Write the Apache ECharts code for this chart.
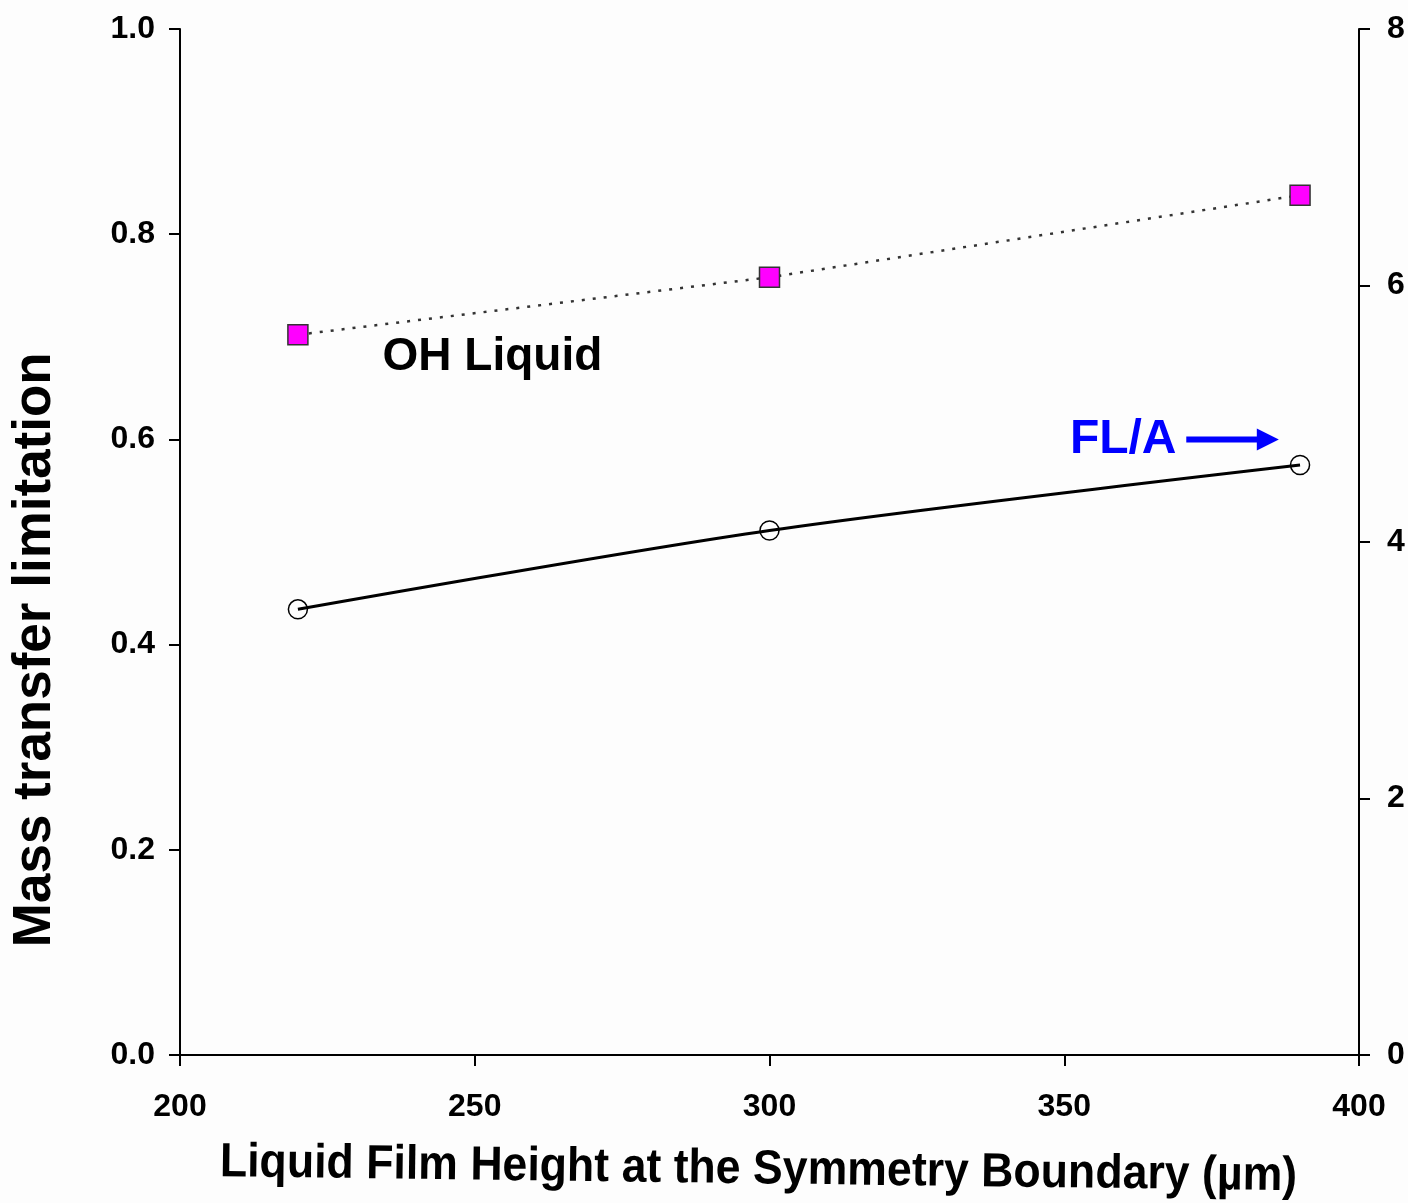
<!DOCTYPE html>
<html>
<head>
<meta charset="utf-8">
<script src="https://cdn.jsdelivr.net/npm/echarts@6/dist/echarts.min.js"></script>
<style>
  html, body { margin: 0; padding: 0; background: #fdfdfd; }
  #chart { width: 1408px; height: 1203px; }
</style>
</head>
<body>
<div id="chart"></div>
<script>
// Liquid film heights (µm)
const filmHeights = [220, 300, 390];
// Mass transfer limitation, OH in the liquid (left axis)
const ohLiquid = [0.702, 0.758, 0.838];
// FL/A (right axis)
const flA = [3.475, 4.09, 4.60];

const leftTicks = { min: 0, max: 1, interval: 0.2 };
const rightTicks = { min: 0, max: 8, interval: 2 };
const xTicks = { min: 200, max: 400, interval: 50 };

const FONT = '"Liberation Sans", Arial, sans-serif';
const axisLine = { show: true, lineStyle: { color: '#000', width: 2 } };
const axisTick = { show: true, inside: false, length: 11, lineStyle: { color: '#000', width: 2 } };
const tickLabel = { color: '#000', fontFamily: FONT, fontWeight: 'bold', fontSize: 32 };

const chart = echarts.init(document.getElementById('chart'), null, { renderer: 'canvas' });

const option = {
  backgroundColor: '#fdfdfd',
  animation: false,
  grid: { left: 180, right: 49, top: 29, bottom: 148, containLabel: false },
  xAxis: [
    {
      type: 'value', min: xTicks.min, max: xTicks.max, interval: xTicks.interval,
      axisLine, axisTick, splitLine: { show: false },
      axisLabel: Object.assign({ margin: 36 }, tickLabel)
    },
    {
      type: 'value', position: 'top', min: xTicks.min, max: xTicks.max,
      axisLine, axisTick: { show: false }, axisLabel: { show: false }, splitLine: { show: false }
    }
  ],
  yAxis: [
    {
      type: 'value', position: 'left', min: leftTicks.min, max: leftTicks.max, interval: leftTicks.interval,
      axisLine, axisTick, splitLine: { show: false },
      axisLabel: Object.assign({ margin: 25, formatter: v => v.toFixed(1) }, tickLabel)
    },
    {
      type: 'value', position: 'right', min: rightTicks.min, max: rightTicks.max, interval: rightTicks.interval,
      axisLine, axisTick, splitLine: { show: false },
      axisLabel: Object.assign({ margin: 28 }, tickLabel)
    }
  ],
  series: [
    {
      name: 'OH Liquid', type: 'line', xAxisIndex: 0, yAxisIndex: 0,
      data: filmHeights.map((x, i) => [x, ohLiquid[i]]),
      symbol: 'rect', symbolSize: 20,
      itemStyle: { color: '#ff00ff', borderColor: '#333', borderWidth: 1.5 },
      lineStyle: { color: '#333', width: 2.5, type: [3, 8] },
      z: 3
    },
    {
      name: 'FL/A', type: 'line', xAxisIndex: 0, yAxisIndex: 1, smooth: 0.3,
      data: filmHeights.map((x, i) => [x, flA[i]]),
      symbol: 'circle', symbolSize: 19,
      itemStyle: { color: 'rgba(0,0,0,0)', borderColor: '#000', borderWidth: 1.5 },
      lineStyle: { color: '#000', width: 3 },
      z: 3
    }
  ]
};
chart.setOption(option);

// Annotations anchored to data coordinates
const ohLabelPos = chart.convertToPixel({ xAxisIndex: 0, yAxisIndex: 0 }, [253, 0.68]);
const flLabelPos = chart.convertToPixel({ xAxisIndex: 0, yAxisIndex: 1 }, [360, 4.8]);
const arrowStart = chart.convertToPixel({ xAxisIndex: 0, yAxisIndex: 1 }, [370.7, 4.8]);
const arrowEnd = chart.convertToPixel({ xAxisIndex: 0, yAxisIndex: 1 }, [386.4, 4.8]);
const gridMidY = chart.convertToPixel({ yAxisIndex: 0 }, 0.395);
const xMid = chart.convertToPixel({ xAxisIndex: 0 }, 300);

chart.setOption({
  graphic: [
    {
      type: 'text', x: ohLabelPos[0], y: ohLabelPos[1],
      style: { text: 'OH Liquid', fill: '#000', font: 'bold 46px ' + FONT, textAlign: 'center', textVerticalAlign: 'middle' }
    },
    {
      type: 'text', x: flLabelPos[0], y: flLabelPos[1],
      style: { text: 'FL/A', fill: '#0000ff', font: 'bold 48px ' + FONT, textAlign: 'center', textVerticalAlign: 'middle' }
    },
    {
      type: 'line',
      shape: { x1: arrowStart[0], y1: arrowStart[1], x2: arrowEnd[0] - 20, y2: arrowEnd[1] },
      style: { stroke: '#0000ff', lineWidth: 6 }
    },
    {
      type: 'polygon',
      shape: { points: [[arrowEnd[0] - 22, arrowEnd[1] - 11], [arrowEnd[0], arrowEnd[1]], [arrowEnd[0] - 22, arrowEnd[1] + 11]] },
      style: { fill: '#0000ff' }
    },
    {
      type: 'text', x: 35, y: gridMidY, rotation: Math.PI / 2,
      style: { text: 'Mass transfer limitation', fill: '#000', font: 'bold 53px ' + FONT, textAlign: 'center', textVerticalAlign: 'middle' }
    },
    {
      type: 'text', x: xMid - 11, y: 1170, rotation: -0.013, scaleX: 0.93,
      style: { text: 'Liquid Film Height at the Symmetry Boundary (\u00b5m)', fill: '#000', font: 'bold 48px ' + FONT, textAlign: 'center', textVerticalAlign: 'middle' }
    }
  ]
});
</script>
</body>
</html>
